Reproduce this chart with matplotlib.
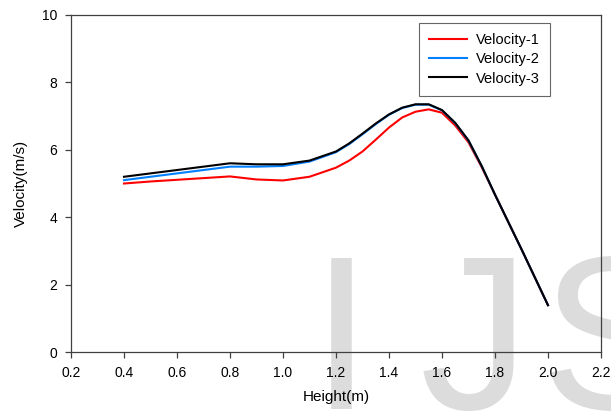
import numpy as np
from matplotlib import pyplot as plt

# heights (m) and velocities (m/s)
height = [0.4, 0.5, 0.6, 0.7, 0.8, 0.9, 1.0, 1.1, 1.2, 1.25, 1.3, 1.35, 1.4, 1.45,
          1.5, 1.55, 1.6, 1.65, 1.7, 1.75, 1.8, 1.9, 2.0]

velocity_1 = [5.00, 5.06, 5.11, 5.16, 5.21, 5.12, 5.09, 5.20, 5.47, 5.68, 5.95, 6.30, 6.66, 6.96,
              7.13, 7.20, 7.10, 6.72, 6.22, 5.48, 4.67, 3.05, 1.39]
velocity_2 = [5.10, 5.20, 5.30, 5.40, 5.50, 5.50, 5.52, 5.65, 5.93, 6.17, 6.46, 6.76, 7.04, 7.24,
              7.34, 7.34, 7.17, 6.79, 6.27, 5.51, 4.67, 3.05, 1.39]
velocity_3 = [5.20, 5.30, 5.40, 5.50, 5.60, 5.57, 5.57, 5.68, 5.95, 6.19, 6.48, 6.78, 7.05, 7.25,
              7.35, 7.35, 7.18, 6.80, 6.28, 5.52, 4.67, 3.05, 1.39]

labels = ["Velocity-1", "Velocity-2", "Velocity-3"]
colors = ["#ff0000", "#0080ff", "#000000"]

xticks = [0.2, 0.4, 0.6, 0.8, 1.0, 1.2, 1.4, 1.6, 1.8, 2.0, 2.2]
yticks = [0, 2, 4, 6, 8, 10]

plt.rcParams['font.family'] = ['Liberation Sans', 'DejaVu Sans']

fig = plt.figure(figsize=(6.11, 4.12), dpi=100)

# faint journal watermark behind the plot
for letter, xpos in zip("IJS", [0.508, 0.687, 0.8838]):
    fig.text(xpos, 0.007, letter, fontsize=158, color="#dcdcdc", zorder=-5)

ax = fig.add_axes([0.1162, 0.1456, 0.8674, 0.818])
ax.set_facecolor("none")

for vals, lab, col in zip([velocity_1, velocity_2, velocity_3], labels, colors):
    ax.plot(height, vals, color=col, lw=1.5, label=lab)

ax.set_xlim(0.2, 2.2)
ax.set_ylim(0, 10)
ax.set_xticks(xticks)
ax.set_xticklabels([f"{t:.1f}" for t in xticks])
ax.set_yticks(yticks)

for s in ax.spines.values():
    s.set_color("#404040")
    s.set_linewidth(0.9)

ax.tick_params(axis='both', direction='out', length=4, width=0.9,
               color="#404040", labelsize=10, pad=6)
ax.set_xlabel("Height(m)", fontsize=11, labelpad=7)
ax.set_ylabel("Velocity(m/s)", fontsize=11, labelpad=10)

leg = ax.legend(loc='upper right', bbox_to_anchor=(0.904, 0.976), fontsize=10.5,
                frameon=True, fancybox=False, handlelength=2.6, borderpad=0.7,
                labelspacing=0.35, handletextpad=0.6, borderaxespad=0)
leg.get_frame().set_edgecolor("#404040")
leg.get_frame().set_linewidth(0.8)

fig.savefig("out.png", dpi=100)
